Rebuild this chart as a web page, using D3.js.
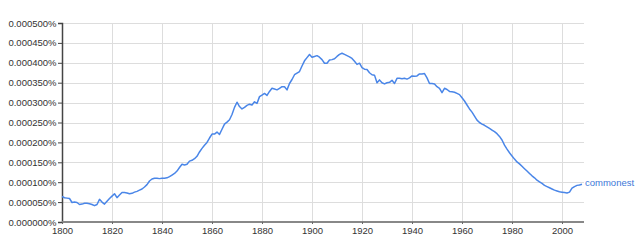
<!DOCTYPE html>
<html>
<head>
<meta charset="utf-8">
<script src="https://cdn.jsdelivr.net/npm/d3@7"></script>
<style>
  html, body { margin: 0; padding: 0; background: #fff; }
  svg { display: block; }
</style>
</head>
<body>
<svg id="chart" width="640" height="243"></svg>
<script>
// Data: frequency of "commonest" (values in units of 0.000001 %), one per year 1800-2008
const startYear = 1800;
const seriesName = "commonest";
const valuesMicroPct = [
  64, 61, 60, 59, 49, 50, 49, 44, 45, 47,
  47, 46, 44, 41, 44, 57, 50, 45, 52, 59,
  65, 71, 61, 68, 74, 74, 73, 71, 72, 75,
  77, 80, 83, 88, 94, 103, 108, 110, 110, 109,
  110, 110, 111, 114, 118, 122, 128, 137, 145, 143,
  145, 153, 155, 159, 165, 176, 185, 193, 200, 211,
  221, 221, 226, 220, 233, 246, 251, 257, 270, 288,
  301, 290, 284, 288, 293, 296, 294, 302, 298, 315,
  319, 323, 318, 328, 336, 334, 332, 336, 340, 340,
  332, 348, 358, 370, 374, 378, 392, 405, 413, 421,
  414, 416, 418, 414, 408, 399, 399, 407, 408, 410,
  416, 421, 424, 421, 418, 415, 411, 404, 396, 399,
  388, 384, 383, 375, 370, 369, 350, 357, 350, 347,
  350, 351, 356, 348, 361, 361, 360, 361, 359, 362,
  367, 366, 367, 372, 372, 373, 362, 348, 348, 347,
  340, 336, 325, 336, 333, 328, 327, 326, 323, 320,
  312, 304, 294, 284, 276, 266, 256, 250, 246, 243,
  239, 235, 231, 227, 222, 215, 206, 193, 183, 174,
  166, 158, 151, 146, 140, 134, 128, 122, 116, 111,
  105, 101, 97, 92, 89, 86, 83, 80, 78, 76,
  75, 74, 73, 75, 85, 89, 92, 93, 95
];
const xTickYears = [1800, 1820, 1840, 1860, 1880, 1900, 1920, 1940, 1960, 1980, 2000];
const yTickValues = [0, 50, 100, 150, 200, 250, 300, 350, 400, 450, 500];

(function () {
const data = valuesMicroPct.map((v, i) => ({ year: startYear + i, value: v }));

const svg = d3.select("#chart");
const mLeft = 62, mRight = 582, mTop = 23, mBottom = 222;
const gridRight = 584;

const x = d3.scaleLinear().domain([1800, 2008]).range([mLeft, mRight]);
const y = d3.scaleLinear().domain([0, 500]).range([mBottom, mTop]);

const font = "Arial, 'Liberation Sans', sans-serif";
const fsize = "9.5px";

// Grid
const grid = svg.append("g");
grid.selectAll("line.h").data(yTickValues.filter(d => d > 0)).enter().append("line")
  .attr("x1", mLeft).attr("x2", gridRight)
  .attr("y1", d => Math.round(y(d)) + 0.5).attr("y2", d => Math.round(y(d)) + 0.5)
  .attr("stroke", "#dddddd").attr("stroke-width", 1);
grid.selectAll("line.v").data(xTickYears.filter(d => d > 1800)).enter().append("line")
  .attr("x1", d => Math.round(x(d)) + 0.5).attr("x2", d => Math.round(x(d)) + 0.5)
  .attr("y1", mTop).attr("y2", mBottom)
  .attr("stroke", "#dddddd").attr("stroke-width", 1);

// Y axis
const yAxis = d3.axisLeft(y).tickValues(yTickValues).tickSize(4).tickPadding(1.5)
  .tickFormat(d => (d / 1e6).toFixed(6) + "%");
const gy = svg.append("g").attr("transform", `translate(${mLeft},0)`).call(yAxis);
gy.select(".domain").attr("stroke", "#444").attr("stroke-width", 1.5);
gy.selectAll(".tick line").attr("stroke", "#444");
gy.selectAll(".tick text").attr("fill", "#333").style("font-family", font).style("font-size", fsize);

// X axis
const xAxis = d3.axisBottom(x).tickValues(xTickYears).tickSize(2).tickPadding(3)
  .tickFormat(d3.format("d"));
const gx = svg.append("g").attr("transform", `translate(0,${mBottom})`).call(xAxis);
gx.select(".domain").attr("d", `M${mLeft},0H${gridRight}`).attr("stroke", "#888").attr("stroke-width", 2);
gx.selectAll(".tick line").attr("stroke", "#666");
gx.selectAll(".tick text").attr("fill", "#333").style("font-family", font).style("font-size", fsize);

// Line
const line = d3.line().x(d => x(d.year)).y(d => y(d.value));
svg.append("path").datum(data)
  .attr("fill", "none").attr("stroke", "#4a86e8").attr("stroke-width", 1.5)
  .attr("stroke-linejoin", "round").attr("d", line);

// Label
const last = data[data.length - 1];
svg.append("text")
  .attr("x", x(last.year) + 3).attr("y", y(last.value) + 2)
  .attr("fill", "#3c78d8").style("font-family", font).style("font-size", fsize)
  .text(seriesName);
})();
</script>
</body>
</html>
